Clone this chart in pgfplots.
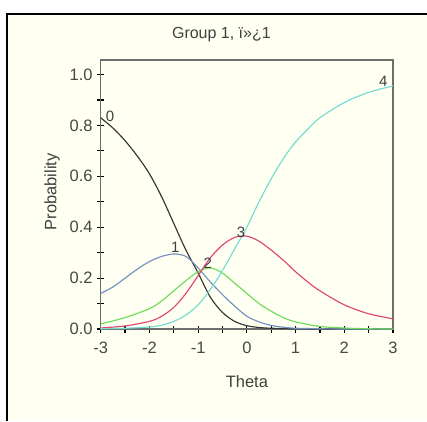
\documentclass[border=0pt]{standalone}
\usepackage{pgfplots}
\pgfplotsset{compat=1.18}
\usepackage{fontspec}
\setmainfont{Liberation Sans}
\definecolor{cream}{HTML}{FFFFF2}
\definecolor{c0}{HTML}{353535}
\definecolor{c1}{HTML}{7391C2}
\definecolor{c2}{HTML}{6CDC5A}
\definecolor{c3}{HTML}{DE4679}
\definecolor{c4}{HTML}{74DCD2}
\definecolor{boxgray}{HTML}{6E6E6E}
\begin{document}
\begin{tikzpicture}
\path[use as bounding box, fill=white] (0pt,0pt) rectangle (427pt,-421pt);
\fill[cream] (7pt,-14pt) rectangle (427pt,-421pt);
\draw[black, line width=2.2pt] (7pt,-421pt) -- (7pt,-14pt) -- (427pt,-14pt);
\begin{axis}[
  at={(100.7pt,-329pt)}, anchor=south west,
  scale only axis, width=292.3pt, height=269pt,
  xmin=-3, xmax=3, ymin=0, ymax=1.057,
  axis line style={boxgray, line width=1.3pt},
  xtick={-3,-2,-1,0,1,2,3},
  xticklabels={-3,-2,-1,0,1,2,3},
  minor xtick={-2.5,-1.5,-0.5,0.5,1.5,2.5},
  ytick={0,0.2,0.4,0.6,0.8,1.0},
  yticklabels={0.0,0.2,0.4,0.6,0.8,1.0},
  minor ytick={0.1,0.3,0.5,0.7,0.9},
  tick align=center,
  major tick length=7pt, minor tick length=7pt,
  tick style={black, line width=1.2pt},
  xtick pos=bottom, ytick pos=left,
  tick label style={font=\fontsize{16.5}{19}\selectfont, text=black!72},
  xticklabel style={yshift=-6pt},
  yticklabel style={xshift=-1pt},
  title={Group 1, ï»¿1},
  title style={at={(axis description cs:0.413,1.071)}, anchor=center, font=\fontsize{16}{19}\selectfont, text=black!75},
  xlabel={Theta},
  ylabel={Probability},
  label style={font=\fontsize{16.5}{19}\selectfont, text=black!75},
  xlabel style={at={(axis description cs:0.50,-0.195)}, anchor=center},
  ylabel style={at={(axis description cs:-0.166,0.51)}, anchor=center, rotate=0},
  clip=false,
  every axis plot/.append style={line width=1.15pt, smooth, tension=0.5},
]
\addplot[c0] coordinates {(-3,0.83) (-2.75,0.79) (-2.5,0.74) (-2.25,0.68) (-2,0.61) (-1.75,0.52) (-1.5,0.415) (-1.25,0.31) (-1,0.22) (-0.75,0.125) (-0.5,0.065) (-0.25,0.03) (0,0.013) (0.25,0.006) (0.5,0.003) (1,0.001) (1.5,0) (2,0) (3,0)};
\addplot[c1] coordinates {(-3,0.14) (-2.75,0.165) (-2.5,0.2) (-2.25,0.235) (-2,0.265) (-1.75,0.285) (-1.5,0.295) (-1.25,0.285) (-1,0.24) (-0.75,0.185) (-0.5,0.135) (-0.25,0.09) (0,0.05) (0.25,0.028) (0.5,0.014) (0.75,0.007) (1,0.003) (1.5,0.001) (2,0) (3,0)};
\addplot[c2] coordinates {(-3,0.02) (-2.5,0.045) (-2,0.08) (-1.75,0.11) (-1.5,0.15) (-1.25,0.19) (-1,0.225) (-0.75,0.24) (-0.5,0.22) (-0.25,0.18) (0,0.14) (0.25,0.1) (0.5,0.07) (0.75,0.045) (1,0.028) (1.5,0.01) (2,0.004) (2.5,0.001) (3,0)};
\addplot[c3] coordinates {(-3,0.004) (-2.5,0.012) (-2,0.03) (-1.75,0.05) (-1.5,0.085) (-1.25,0.14) (-1,0.21) (-0.75,0.28) (-0.5,0.33) (-0.25,0.36) (0,0.365) (0.25,0.345) (0.5,0.31) (0.75,0.27) (1,0.225) (1.25,0.185) (1.5,0.15) (2,0.095) (2.5,0.06) (3,0.04)};
\addplot[c4] coordinates {(-3,0.001) (-2.5,0.003) (-2,0.008) (-1.75,0.015) (-1.5,0.03) (-1.25,0.055) (-1,0.095) (-0.75,0.155) (-0.5,0.23) (-0.25,0.315) (0,0.4) (0.25,0.5) (0.5,0.59) (0.75,0.67) (1,0.735) (1.25,0.785) (1.5,0.83) (2,0.89) (2.5,0.93) (3,0.955)};
\node[font=\fontsize{15}{17}\selectfont, text=black!75] at (axis cs:-2.81,0.837) {0};
\node[font=\fontsize{15}{17}\selectfont, text=black!75] at (axis cs:-1.47,0.32) {1};
\node[font=\fontsize{15}{17}\selectfont, text=black!75] at (axis cs:-0.8,0.26) {2};
\node[font=\fontsize{15}{17}\selectfont, text=black!75] at (axis cs:-0.12,0.38) {3};
\node[font=\fontsize{15}{17}\selectfont, text=black!75] at (axis cs:2.8,0.975) {4};
\end{axis}
\end{tikzpicture}
\end{document}
